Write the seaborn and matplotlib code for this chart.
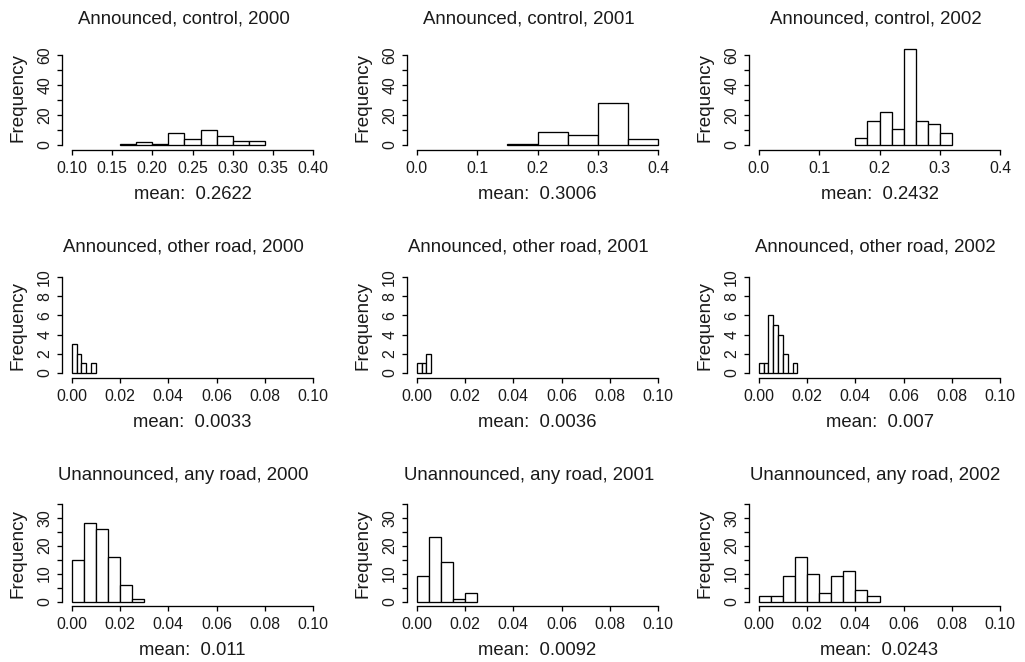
import numpy as np
import pandas as pd
import seaborn as sns
import matplotlib
matplotlib.use("Agg")
import matplotlib.pyplot as plt

# ==========================================
# DATA (bin counts)
# ==========================================
titles = [
    "Announced, control, 2000", "Announced, control, 2001", "Announced, control, 2002",
    "Announced, other road, 2000", "Announced, other road, 2001", "Announced, other road, 2002",
    "Unannounced, any road, 2000", "Unannounced, any road, 2001", "Unannounced, any road, 2002",
]
means = ["0.2622", "0.3006", "0.2432",
         "0.0033", "0.0036", "0.007",
         "0.011", "0.0092", "0.0243"]

# first break and bin width of each histogram
bin_start = [0.16, 0.15, 0.16,
             0.0, 0.0, 0.0,
             0.0, 0.0, 0.0]
bin_width = [0.02, 0.05, 0.02,
             0.002, 0.002, 0.002,
             0.005, 0.005, 0.005]

counts_ctrl_2000 = [1, 2, 1, 8, 4, 10, 6, 3, 3]
counts_ctrl_2001 = [1, 9, 7, 28, 4]
counts_ctrl_2002 = [5, 16, 22, 11, 64, 16, 14, 8]
counts_other_2000 = [3, 2, 1, 0, 1]
counts_other_2001 = [1, 1, 2]
counts_other_2002 = [1, 1, 6, 5, 4, 2, 0, 1]
counts_unann_2000 = [15, 28, 26, 16, 6, 1]
counts_unann_2001 = [9, 23, 14, 1, 3]
counts_unann_2002 = [2, 2, 9, 16, 10, 3, 9, 11, 4, 2]

all_counts = [counts_ctrl_2000, counts_ctrl_2001, counts_ctrl_2002,
              counts_other_2000, counts_other_2001, counts_other_2002,
              counts_unann_2000, counts_unann_2001, counts_unann_2002]

# axis ticks
xticks_ctrl_2000 = [0.10, 0.15, 0.20, 0.25, 0.30, 0.35, 0.40]
xticks_ctrl = [0.0, 0.1, 0.2, 0.3, 0.4]
xticks_small = [0.00, 0.02, 0.04, 0.06, 0.08, 0.10]
yticks_row = [list(range(0, 61, 10)), list(range(0, 11, 2)), list(range(0, 36, 5))]
ylabels_every = [2, 1, 2]

# ==========================================
# LAYOUT (pixels, R base-graphics look)
# ==========================================
W, H = 1025, 662
col_left = [62, 407, 749]
ax_w = 261
row_bottom = [150, 378, 606]
ax_h = 104
ylims = [(-3.3, 66.0), (-0.52, 10.31), (-1.6, 35.6)]
title_x = [0.466, 0.466, 0.485]   # titles sit a bit left of centre in the original

TXT = "#1a1a1a"

sns.set_theme(style="ticks")
plt.rcParams["font.family"] = ["Liberation Sans", "DejaVu Sans"]

fig = plt.figure(figsize=(W / 100, H / 100), dpi=100)

for i in range(9):
    r, c = divmod(i, 3)
    ax = fig.add_axes([col_left[c] / W, 1 - row_bottom[r] / H, ax_w / W, ax_h / H])

    counts = np.array(all_counts[i])
    edges = bin_start[i] + bin_width[i] * np.arange(len(counts) + 1)
    df = pd.DataFrame({"value": (edges[:-1] + edges[1:]) / 2, "count": counts})

    sns.histplot(data=df, x="value", weights="count", bins=edges.tolist(), ax=ax,
                 color="white", edgecolor="black", linewidth=0.95, alpha=1)

    if i == 0:
        xt = xticks_ctrl_2000
        xl = [f"{v:.2f}" for v in xt]
    elif r == 0:
        xt = xticks_ctrl
        xl = [f"{v:.1f}" for v in xt]
    else:
        xt = xticks_small
        xl = [f"{v:.2f}" for v in xt]
    span = xt[-1] - xt[0]
    ax.set_xlim(xt[0] - 0.04 * span, xt[-1] + 0.04 * span)
    ax.set_xticks(xt)
    ax.set_xticklabels(xl)

    yt = yticks_row[r]
    ax.set_ylim(*ylims[r])
    ax.set_yticks(yt)
    ax.set_yticklabels([str(v) if k % ylabels_every[r] == 0 else "" for k, v in enumerate(yt)])
    for lab in ax.get_yticklabels():
        lab.set_rotation(90)
        lab.set_va("center")

    for side in ["top", "right"]:
        ax.spines[side].set_visible(False)
    ax.spines["left"].set_bounds(yt[0], yt[-1])
    ax.spines["bottom"].set_bounds(xt[0], xt[-1])
    for side in ["left", "bottom"]:
        ax.spines[side].set_linewidth(0.95)
        ax.spines[side].set_color("black")
    ax.tick_params(axis="both", length=3.6, width=0.95, color="black",
                   labelsize=11.4, labelcolor=TXT)
    ax.tick_params(axis="x", pad=4.5)
    ax.tick_params(axis="y", pad=3.5)

    ax.set_title(titles[i], fontsize=13.4, color=TXT, pad=16, x=title_x[c])
    ax.set_xlabel(f"mean:  {means[i]}", fontsize=13.3, color=TXT, labelpad=7)
    ax.set_ylabel("Frequency", fontsize=13.6, color=TXT, labelpad=7.5)
    ax.grid(False)

fig.savefig("out.png", dpi=100)
